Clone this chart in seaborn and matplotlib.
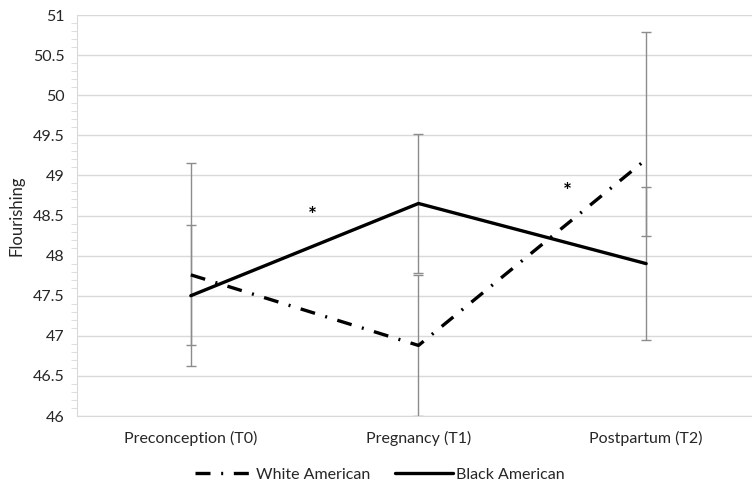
import matplotlib
matplotlib.use('Agg')
import matplotlib.pyplot as plt
from matplotlib.ticker import MultipleLocator
import seaborn as sns
import pandas as pd
import numpy as np

times = ['Preconception (T0)', 'Pregnancy (T1)', 'Postpartum (T2)']
white = [47.76, 46.88, 49.20]
black = [47.50, 48.65, 47.90]
white_lo = [46.88, 46.00, 48.24]
white_hi = [49.15, 47.76, 50.79]
black_lo = [46.62, 47.78, 46.95]
black_hi = [48.38, 49.52, 48.86]
stars = [(0.536, 48.50), (1.653, 48.79)]

sns.set_style('white')
plt.rcParams['font.family'] = ['Lato', 'DejaVu Sans']

df = pd.DataFrame({
    'time': list(range(3)) * 2,
    'value': white + black,
    'group': ['White American'] * 3 + ['Black American'] * 3,
})

fig = plt.figure(figsize=(7.52, 4.84), dpi=100)
ax = fig.add_axes([77 / 752, 68 / 484, 675 / 752, 401 / 484])

# error bars first so lines sit on top
x = np.arange(3)
for vals, lo, hi in [(white, white_lo, white_hi), (black, black_lo, black_hi)]:
    vals = np.array(vals)
    err = [vals - np.array(lo), np.array(hi) - vals]
    ax.errorbar(x, vals, yerr=err, fmt='none', ecolor='#8c8c8c', elinewidth=1,
                capsize=3.5, capthick=1, zorder=2)

dash = (4.5, 3.2, 0.6, 3.2)
sns.lineplot(data=df, x='time', y='value', hue='group', style='group',
             palette={'White American': 'black', 'Black American': 'black'},
             dashes={'White American': dash, 'Black American': ''},
             linewidth=2.4, ax=ax, zorder=3, legend=False)

for sx, sy in stars:
    ax.text(sx, sy, '*', ha='center', va='center', fontsize=15,
            fontweight='bold', color='black')

ax.set_xlim(-0.5, 2.465)
ax.set_ylim(46, 51)
ax.set_xticks(x)
ax.set_xticklabels(times, fontsize=11.5)
ax.yaxis.set_minor_locator(MultipleLocator(0.1))
ax.set_yticks(np.arange(46, 51.01, 0.5))
ax.set_yticklabels([f'{v:g}' for v in np.arange(46, 51.01, 0.5)], fontsize=11.5)
ax.grid(axis='y', which='major', color='#d9d9d9', linewidth=1)
ax.set_axisbelow(True)
ax.set_xlabel('')
ax.set_ylabel('Flourishing', fontsize=12, labelpad=6)

for s in ['top', 'right']:
    ax.spines[s].set_visible(False)
ax.spines['left'].set_color('#d9d9d9')
ax.spines['bottom'].set_color('#d9d9d9')
ax.tick_params(axis='y', which='both', left=True, color='#d9d9d9', length=4, pad=9)
ax.tick_params(axis='y', which='major', length=0)
ax.tick_params(axis='x', length=0, pad=11)

handles = [
    plt.Line2D([], [], color='black', lw=2.4, dashes=dash),
    plt.Line2D([], [], color='black', lw=2.4),
]
fig.legend(handles, ['White American', 'Black American'], loc='lower center',
           bbox_to_anchor=(0.505, -0.025), ncol=2, frameon=False, fontsize=11.5,
           handlelength=3.6, handletextpad=0.2, columnspacing=1.6)

fig.savefig('out.png', dpi=100)
